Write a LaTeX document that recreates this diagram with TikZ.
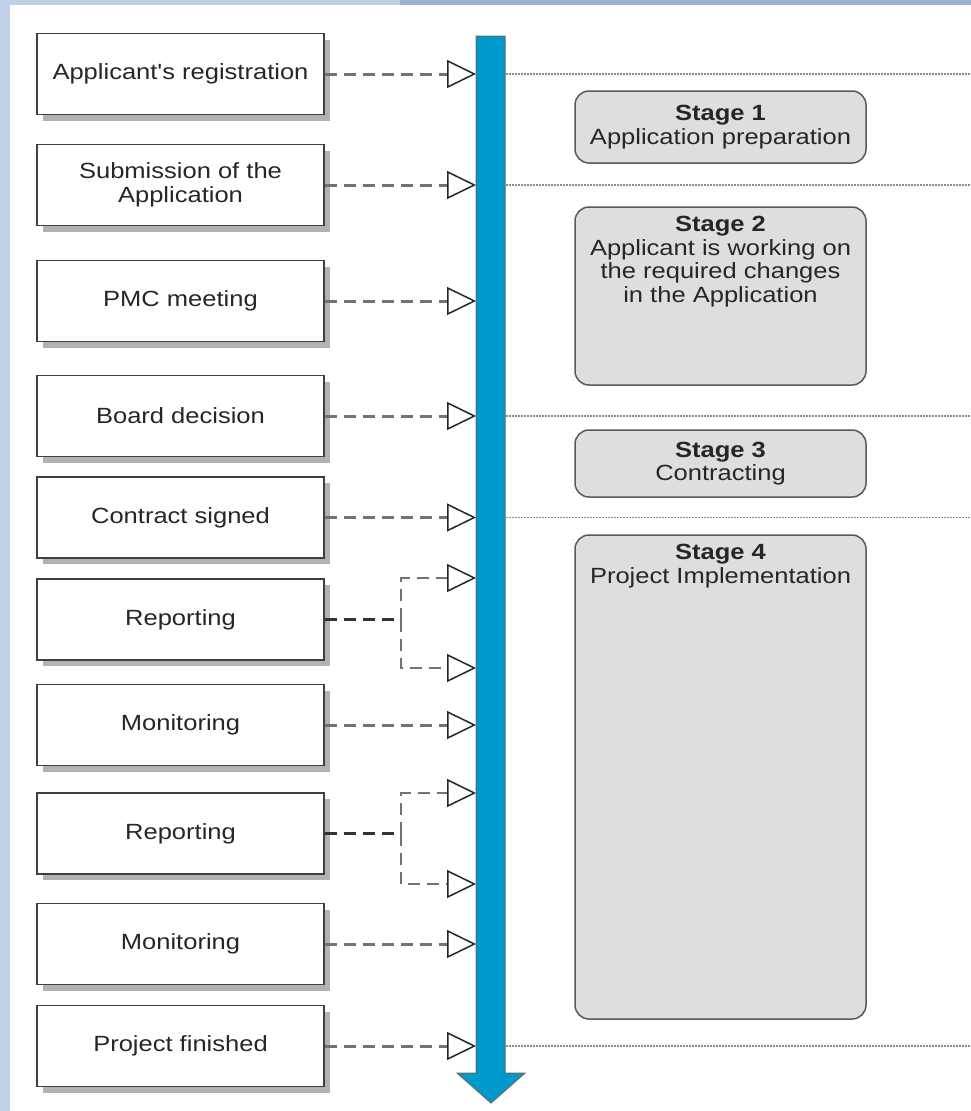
\documentclass[tikz,border=0pt]{standalone}
\usepackage{fontspec}
\setmainfont{Liberation Sans}[FakeStretch=1.16, Ligatures=TeXOff]
\usepackage{xcolor}
\usepackage{tikz}
\usetikzlibrary{arrows.meta,positioning,shadows}
\definecolor{barblue}{HTML}{0099CC}
\definecolor{bgleft}{HTML}{C0D0E6}
\definecolor{bgtop}{HTML}{9DB0D5}

\begin{document}
\begin{tikzpicture}[x=1pt,y=-1pt, every node/.style={font=\fontsize{22}{23.5}\selectfont, text=black!85},
  eventbox/.style={draw=black!75, line width=1.5pt, fill=white, minimum width=287pt, minimum height=81pt, align=center,
    drop shadow={shadow xshift=6pt, shadow yshift=-6pt, fill=black!30, opacity=1}},
  stagebox/.style={draw=black!65, line width=1.5pt, fill=black!13, rounded corners=14pt, minimum width=291pt, align=center},
  stagetext/.style={inner sep=0pt, align=center},
  conn/.style={draw=black!55, line width=3pt, dash pattern=on 12pt off 7pt,
    -{Triangle[open, length=29pt, width=28pt, color=black!85, line width=1.5pt]}},
  conndark/.style={draw=black!80, line width=3pt, dash pattern=on 12pt off 7pt},
  sepline/.style={draw=black!45, line width=1.5pt, dash pattern=on 1.5pt off 1.5pt}]
\useasboundingbox (0,0) rectangle (971,1111);
% background frame
\fill[bgleft] (0,0) rectangle (971,1111);
\fill[bgtop] (400,0) rectangle (971,5);
\fill[white] (10,5) rectangle (971,1111);

% time line
\fill[barblue, draw=black!60, line width=1pt] (476,36) -- (505,36) -- (505,1073) -- (525,1073) -- (491,1103) -- (457,1073) -- (476,1073) -- cycle;

% events
\node[eventbox] (b1) at (180.5,74) {Applicant's registration};
\node[eventbox] (b2) at (180.5,185) {Submission of the\\Application};
\node[eventbox] (b3) at (180.5,301) {PMC meeting};
\node[eventbox] (b4) at (180.5,416) {Board decision};
\node[eventbox] (b5) at (180.5,517.5) {Contract signed};
\node[eventbox] (b6) at (180.5,619.5) {Reporting};
\node[eventbox] (b7) at (180.5,725) {Monitoring};
\node[eventbox] (b8) at (180.5,833.5) {Reporting};
\node[eventbox] (b9) at (180.5,944) {Monitoring};
\node[eventbox] (b10) at (180.5,1046) {Project finished};

% points on the time line
\coordinate (t1) at (476,74);
\coordinate (t2) at (476,185);
\coordinate (t3) at (476,301);
\coordinate (t4) at (476,416);
\coordinate (t5) at (476,517.5);
\coordinate (t6a) at (476,578);
\coordinate (t6b) at (476,668);
\coordinate (t7) at (476,725);
\coordinate (t8a) at (476,793);
\coordinate (t8b) at (476,884);
\coordinate (t9) at (476,944);
\coordinate (t10) at (476,1046);
\coordinate (j6) at (401,619.5);
\coordinate (j8) at (401,833.5);

\draw[conn] (b1) -- (t1);
\draw[conn] (b2) -- (t2);
\draw[conn] (b3) -- (t3);
\draw[conn] (b4) -- (t4);
\draw[conn] (b5) -- (t5);
\draw[conndark] (b6) -- (j6);
\draw[conn, line width=2.5pt] (j6) |- (t6a);
\draw[conn, line width=2.5pt] (j6) |- (t6b);
\draw[conn] (b7) -- (t7);
\draw[conndark] (b8) -- (j8);
\draw[conn, line width=2.5pt] (j8) |- (t8a);
\draw[conn, line width=2.5pt] (j8) |- (t8b);
\draw[conn] (b9) -- (t9);
\draw[conn] (b10) -- (t10);

% stage borders
\draw[sepline] (506,74) -- (971,74);
\draw[sepline] (506,185) -- (971,185);
\draw[sepline] (506,416) -- (971,416);
\draw[sepline] (506,517.5) -- (971,517.5);
\draw[sepline] (506,1046) -- (971,1046);

% stages
\node[stagebox, minimum height=72pt] (s1) at (720.5,127) {\textbf{Stage 1}\\Application preparation};
\node[stagebox, minimum height=178pt] (s2) at (720.5,296) {};
\node[stagetext, below=10pt of s2.north] (s2t) {\textbf{Stage 2}\\Applicant is working on\\the required changes\\in the Application};
\node[stagebox, minimum height=67pt] (s3) at (720.5,463.5) {\textbf{Stage 3}\\Contracting};
\node[stagebox, minimum height=484pt] (s4) at (720.5,777) {};
\node[stagetext, below=10pt of s4.north] (s4t) {\textbf{Stage 4}\\Project Implementation};
\end{tikzpicture}
\end{document}
